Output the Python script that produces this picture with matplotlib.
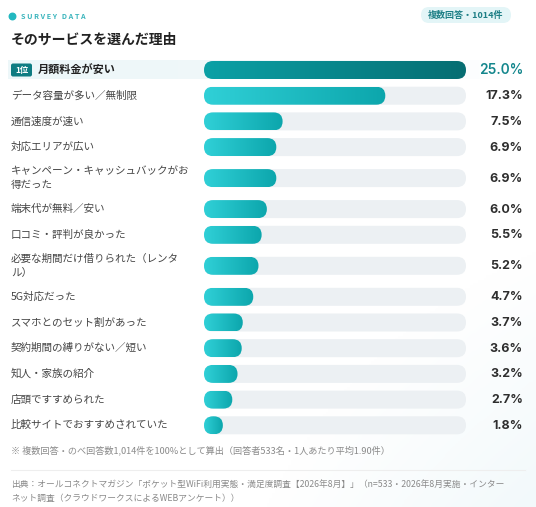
import matplotlib.pyplot as plt
import numpy as np
from matplotlib.patches import FancyBboxPatch, Rectangle
from matplotlib.colors import LinearSegmentedColormap

plt.rcParams['font.family'] = ['Noto Sans CJK JP', 'DejaVu Sans']

labels = ['月額料金が安い', 'データ容量が多い／無制限', '通信速度が速い', '対応エリアが広い',
          'キャンペーン・キャッシュバックがお\n得だった', '端末代が無料／安い', '口コミ・評判が良かった',
          '必要な期間だけ借りられた（レンタ\nル）', '5G対応だった', 'スマホとのセット割があった',
          '契約期間の縛りがない／短い', '知人・家族の紹介', '店頭ですすめられた',
          '比較サイトでおすすめされていた']
values = [25.0, 17.3, 7.5, 6.9, 6.9, 6.0, 5.5, 5.2, 4.7, 3.7, 3.6, 3.2, 2.7, 1.8]

title = 'そのサービスを選んだ理由'
badge = '複数回答・1014件'
note = '※ 複数回答・のべ回答数1,014件を100%として算出（回答者533名・1人あたり平均1.90件）'
source = ('出典：オールコネクトマガジン「ポケット型WiFi利用実態・満足度調査【2026年8月】」（n=533・2026年8月実施・インター\n'
          'ネット調査（クラウドワークスによるWEBアンケート））')

W, H = 536, 507
fig = plt.figure(figsize=(W / 100, H / 100), dpi=100)

# background axes in pixel coords
ax = fig.add_axes([0, 0, 1, 1])
ax.set_xlim(0, W)
ax.set_ylim(H, 0)
ax.axis('off')
bg = np.linspace(0, 1, 200)[None, :] * np.linspace(0, 1, 200)[:, None]
bg_cmap = LinearSegmentedColormap.from_list('bg', ['#ffffff', '#ffffff', '#f2f9fb'])
ax.imshow(bg, extent=[0, W, H, 0], cmap=bg_cmap, aspect='auto', zorder=0)

# header
ax.scatter([12], [16], s=22, color='#22b8c0', zorder=3)
ax.text(21, 16.5, 'S U R V E Y   D A T A', fontsize=5.2, fontweight='bold', color='#3bb5bd',
        va='center', ha='left')
ax.add_patch(FancyBboxPatch((421, 7), 90, 16, boxstyle='round,pad=0,rounding_size=8',
                            fc='#e3f5f7', ec='none', zorder=2))
ax.text(466, 15.5, badge, fontsize=6.5, fontweight='bold', color='#1d7f86', ha='center', va='center', zorder=3)
ax.text(11, 40, title, fontsize=10, fontweight='bold', color='#222222', va='center', ha='left')

# row layout
row_h = [36.3 if '\n' in lab else 25.7 for lab in labels]
centers = []
y = 70 - row_h[0] / 2
for h in row_h:
    centers.append(y + h / 2)
    y += h

# highlight for first row
hl = np.linspace(0, 1, 256)[None, :]
hl_cmap = LinearSegmentedColormap.from_list('hl', ['#edf7f9', '#f0f8fa', '#ffffff'])
ax.imshow(hl, extent=[8, 516, centers[0] + 9.5, centers[0] - 9.5], aspect='auto', cmap=hl_cmap, zorder=1)
ax.add_patch(FancyBboxPatch((11, centers[0] - 6.5), 21, 13, boxstyle='round,pad=0,rounding_size=2',
                            fc='#0e7c82', ec='none', zorder=2))
ax.text(21.5, centers[0] + 0.5, '1位', fontsize=6, fontweight='bold', color='white', ha='center', va='center', zorder=3)

for i, (lab, v, cy) in enumerate(zip(labels, values, centers)):
    if i == 0:
        ax.text(38, cy, lab, fontsize=8, fontweight='bold', color='#222222', va='center', ha='left', zorder=3)
        ax.text(523, cy + 0.5, f'{v:.1f}%', fontsize=9.8, fontweight='semibold', color='#13868c',
                va='center', ha='right', family=['Inter', 'DejaVu Sans'], zorder=3)
    else:
        ax.text(11, cy, lab, fontsize=7.6, color='#454545', va='center', ha='left', linespacing=1.55)
        ax.text(523, cy + 0.5, f'{v:.1f}%', fontsize=9, fontweight='bold', color='#2e2e2e',
                va='center', ha='right', family=['Inter', 'DejaVu Sans'])

# bars axes: x in percent, y in pixels
bx0, bw = 204, 262
bax = fig.add_axes([bx0 / W, 0, bw / W, 1])
bax.set_xlim(0, max(values))
bax.set_ylim(H, 0)
bax.axis('off')
bax.patch.set_alpha(0)

xpp = max(values) / bw
bar_h = 18
r = bar_h / 2
aspect = r / (r * xpp)
top_cmap = LinearSegmentedColormap.from_list('top', ['#0ba1a6', '#066d72'])
bar_cmap = LinearSegmentedColormap.from_list('bar', ['#30d0d7', '#0ca6ac'])
grad = np.linspace(0, 1, 256)[None, :]

for i, (v, cy) in enumerate(zip(values, centers)):
    track = FancyBboxPatch((0, cy - bar_h / 2), max(values), bar_h,
                           boxstyle=f'round,pad=0,rounding_size={r * xpp}',
                           mutation_aspect=aspect, fc='#ecf0f3', ec='none', zorder=1)
    bax.add_patch(track)
    bar = FancyBboxPatch((0, cy - bar_h / 2), v, bar_h,
                         boxstyle=f'round,pad=0,rounding_size={r * xpp}',
                         mutation_aspect=aspect, fc='none', ec='none', zorder=2)
    bax.add_patch(bar)
    im = bax.imshow(grad, extent=[0, v, cy + bar_h / 2, cy - bar_h / 2], aspect='auto',
                    cmap=top_cmap if i == 0 else bar_cmap, zorder=2)
    im.set_clip_path(bar)

bax.set_xlim(0, max(values))
bax.set_ylim(H, 0)

# footer
ax.text(11, 450, note, fontsize=6.6, color='#8a8a8a', va='center', ha='left')
ax.plot([11, 525], [470, 470], color='#eeeeee', lw=0.8)
ax.text(11, 491, source, fontsize=6.3, color='#8a8a8a', va='center', ha='left', linespacing=1.75)

fig.savefig('out.png', dpi=100)
